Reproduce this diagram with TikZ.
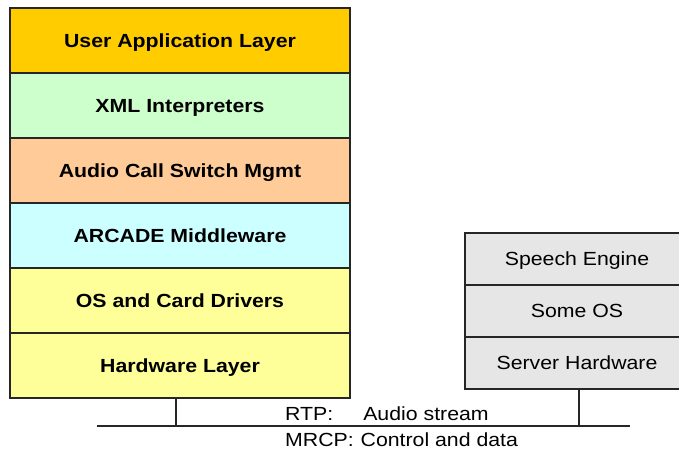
\documentclass[tikz,border=0pt]{standalone}
\usepackage{fontspec}
\setmainfont{Liberation Sans}[FakeStretch=1.12]
\definecolor{cUser}{HTML}{FFCC00}
\definecolor{cXml}{HTML}{CCFFCC}
\definecolor{cAudio}{HTML}{FFCC99}
\definecolor{cArc}{HTML}{CCFFFF}
\definecolor{cYel}{HTML}{FFFF99}
\definecolor{cGray}{HTML}{E6E6E6}
\begin{document}
\begin{tikzpicture}[x=1pt,y=-1pt,
  layer/.style={draw=black!85, line width=1.3pt, minimum width=340pt, minimum height=65pt,
    inner sep=0pt, text height=13pt, text depth=-1pt, font=\fontsize{19}{22}\selectfont\bfseries, text=black},
  srv/.style={draw=black!85, line width=1.3pt, fill=cGray, minimum width=224pt, minimum height=52pt,
    inner sep=0pt, text height=13pt, text depth=-1pt, font=\fontsize{19}{22}\selectfont, text=black},
  lbl/.style={anchor=base west, inner sep=0pt, font=\fontsize{19}{22}\selectfont},
  wire/.style={draw=black!85, line width=1.3pt}]
\useasboundingbox (0,0) rectangle (679,451);
\node[layer, fill=cUser]  (ual) at (180,40.5)  {User Application Layer};
\node[layer, fill=cXml]   (xml) at (180,105.5) {XML Interpreters};
\node[layer, fill=cAudio] (acs) at (180,170.5) {Audio Call Switch Mgmt};
\node[layer, fill=cArc]   (arc) at (180,235.5) {ARCADE Middleware};
\node[layer, fill=cYel]   (osd) at (180,300.5) {OS and Card Drivers};
\node[layer, fill=cYel]   (hw)  at (180,365.5) {Hardware Layer};
\node[srv] (se) at (577,259) {Speech Engine};
\node[srv] (os) at (577,311) {Some OS};
\node[srv] (sh) at (577,363) {Server Hardware};
\coordinate (bl) at (97,426);
\coordinate (br) at (630,426);
\draw[wire] (bl) -- (br);
\draw[wire] ([xshift=-4pt]hw.south) -- ([xshift=-4pt]hw.south |- bl);
\draw[wire] ([xshift=2pt]sh.south) -- ([xshift=2pt]sh.south |- bl);
\node[lbl] (rtp) at (285,420) {RTP:\hspace{30pt}Audio stream};
\node[lbl] (mrcp) at (285,446) {MRCP:\hspace{1pt} Control and data};
\end{tikzpicture}
\end{document}
